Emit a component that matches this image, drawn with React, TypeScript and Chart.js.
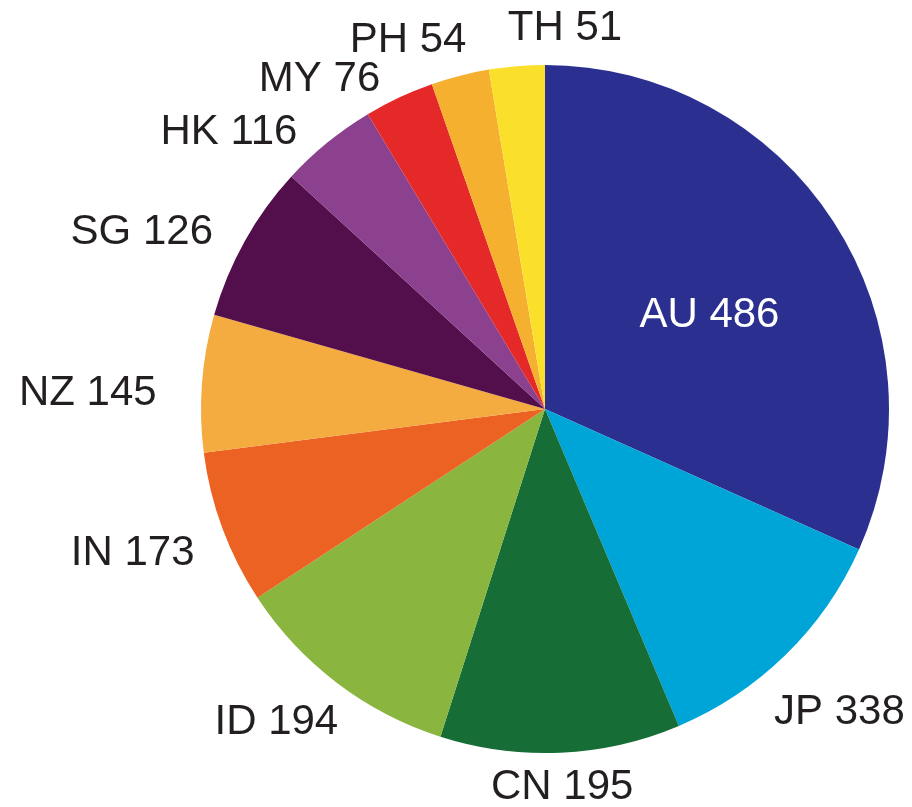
import React, { useEffect, useRef } from "react";
import { Chart, registerables } from "chart.js";

Chart.register(...registerables);

const categories = ["AU", "JP", "CN", "ID", "IN", "NZ", "SG", "HK", "MY", "PH", "TH"];
// numbers printed next to each slice
const labelValues = [486, 338, 195, 194, 173, 145, 126, 116, 76, 54, 51];
// slice sizes as drawn in the picture (degrees of arc; the drawing is not proportional to the printed numbers)
const wedgeDegrees = [114.1, 43.0, 40.6, 39.0, 26.0, 23.2, 26.6, 16.5, 11.8, 9.8, 9.4];
const colors = [
  "#2B3090", "#00A5D8", "#176D36", "#8AB53F", "#EC6223", "#F4AB40",
  "#530F4B", "#8C418F", "#E52929", "#F5B02F", "#FAE02B",
];
// label placement: [angle shift in degrees from slice middle, distance as fraction of radius]
const labelPlacement: [number, number][] = [
  [3.3, 0.55], [0.3, 1.23], [0, 1.1], [3.4, 1.2], [1, 1.27], [-2.3, 1.33],
  [-5.5, 1.28], [-9.6, 1.22], [-9.3, 1.16], [-6.1, 1.142], [7.7, 1.108],
];
const labelColors = ["#FFFFFF", "#231F20", "#231F20", "#231F20", "#231F20", "#231F20",
  "#231F20", "#231F20", "#231F20", "#231F20", "#231F20"];

const labelPlugin = {
  id: "sliceLabels",
  afterDatasetsDraw(chart: any) {
    const ctx = chart.ctx;
    const meta = chart.getDatasetMeta(0);
    ctx.save();
    ctx.font = '42px "Liberation Sans", Arial, sans-serif';
    ctx.textAlign = "center";
    ctx.textBaseline = "middle";
    meta.data.forEach((arc: any, i: number) => {
      const { x, y, startAngle, endAngle, outerRadius } = arc.getProps(
        ["x", "y", "startAngle", "endAngle", "outerRadius"], true);
      const [shift, dist] = labelPlacement[i];
      const a = (startAngle + endAngle) / 2 + (shift * Math.PI) / 180;
      const r = outerRadius * dist;
      ctx.fillStyle = labelColors[i];
      ctx.fillText(`${categories[i]} ${labelValues[i]}`, x + r * Math.cos(a), y + r * Math.sin(a));
    });
    ctx.restore();
  },
};

export default function App() {
  const ref = useRef<HTMLCanvasElement | null>(null);
  useEffect(() => {
    if (!ref.current) return;
    const chart = new Chart(ref.current, {
      type: "pie",
      data: {
        labels: categories,
        datasets: [{
          data: wedgeDegrees,
          backgroundColor: colors,
          borderWidth: 0,
        }],
      },
      options: {
        animation: false,
        responsive: false,
        layout: { padding: { left: 201, right: 23, top: 65, bottom: 54 } },
        plugins: { legend: { display: false }, tooltip: { enabled: false } },
      },
      plugins: [labelPlugin],
    });
    return () => chart.destroy();
  }, []);
  return (
    <div style={{ position: "absolute", left: 0, top: 0, width: 912, height: 807, background: "#fff" }}>
      <canvas ref={ref} width={912} height={807} style={{ width: 912, height: 807 }} />
    </div>
  );
}
